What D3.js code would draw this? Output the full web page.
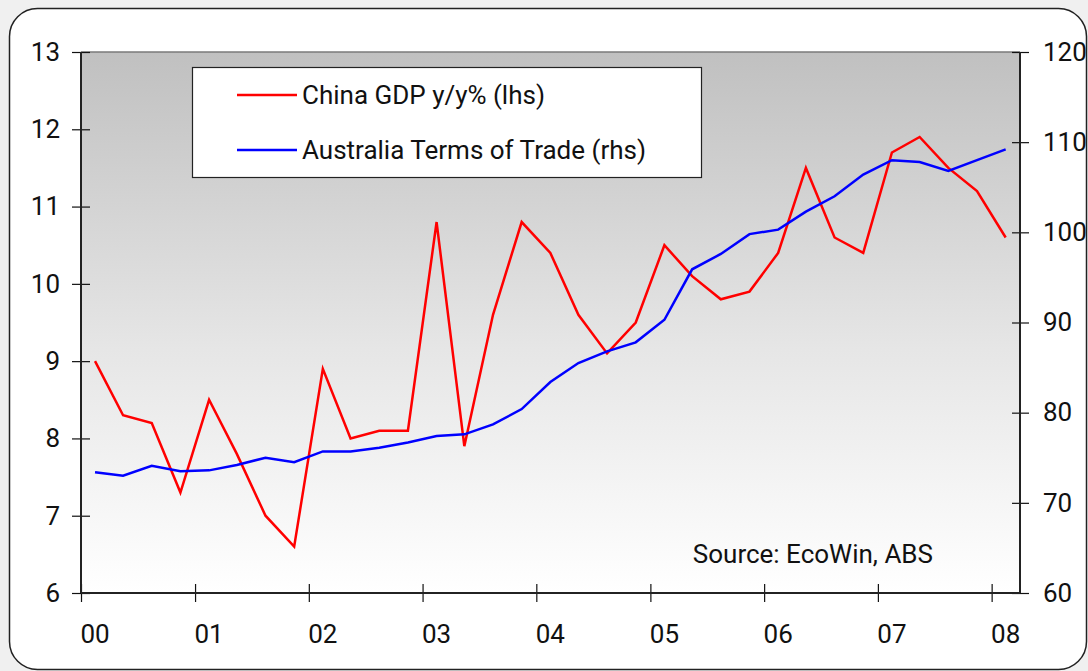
<!DOCTYPE html>
<html>
<head>
<meta charset="utf-8">
<script src="https://cdn.jsdelivr.net/npm/d3@7"></script>
<style>
  body { margin: 0; background: #f0f0f0; }
  svg { display: block; }
  text { font-family: Roboto, "DejaVu Sans", sans-serif; fill: #111; }
</style>
</head>
<body>
<script>
// quarterly data, 2000Q1 .. 2008Q1
var quarters = [
    "2000Q1","2000Q2","2000Q3","2000Q4",
    "2001Q1","2001Q2","2001Q3","2001Q4",
    "2002Q1","2002Q2","2002Q3","2002Q4",
    "2003Q1","2003Q2","2003Q3","2003Q4",
    "2004Q1","2004Q2","2004Q3","2004Q4",
    "2005Q1","2005Q2","2005Q3","2005Q4",
    "2006Q1","2006Q2","2006Q3","2006Q4",
    "2007Q1","2007Q2","2007Q3","2007Q4",
    "2008Q1"];

var chinaGdp = [9.0, 8.3, 8.2, 7.3, 8.5, 7.8, 7.0, 6.6, 8.9, 8.0, 8.1, 8.1,
    10.8, 7.9, 9.6, 10.8, 10.4, 9.6, 9.1, 9.5, 10.5, 10.1, 9.8, 9.9,
    10.4, 11.5, 10.6, 10.4, 11.7, 11.9, 11.5, 11.2, 10.6];

var ausTot = [73.4, 73.0, 74.1, 73.5, 73.6, 74.2, 75.0, 74.5, 75.7, 75.7, 76.1, 76.7,
    77.4, 77.6, 78.7, 80.4, 83.4, 85.5, 86.8, 87.8, 90.3, 95.9, 97.6, 99.8,
    100.3, 102.3, 104.0, 106.4, 108.0, 107.8, 106.8, 108.0, 109.2];

var leftTicks = [6, 7, 8, 9, 10, 11, 12, 13];
var rightTicks = [60, 70, 80, 90, 100, 110, 120];
var years = [2000, 2001, 2002, 2003, 2004, 2005, 2006, 2007, 2008];

var seriesNames = ["China GDP y/y% (lhs)", "Australia Terms of Trade (rhs)"];
var seriesColors = ["#ff0000", "#0000ff"];

var W = 1088, H = 671;
var margin = {top: 52, left: 81, right: 68, bottom: 78};
var width = W - margin.left - margin.right,
    height = H - margin.top - margin.bottom;
var fontSize = "26px";

function qDate(q) {
    var yr = +q.slice(0, 4), qq = +q.slice(5) - 1;
    return new Date(yr, qq * 3 + 1, 15);
}

var data = quarters.map((q, i) => ({date: qDate(q), gdp: chinaGdp[i], tot: ausTot[i]}));

var x = d3.scaleTime()
    .domain([new Date(2000, 0, 1), new Date(2008, 3, 1)])
    .range([0, width]);
var yL = d3.scaleLinear().domain([6, 13]).range([height, 0]);
var yR = d3.scaleLinear().domain([60, 120]).range([height, 0]);

var svg = d3.select("body").append("svg")
    .attr("width", W)
    .attr("height", H);

// outer frame
svg.append("rect")
    .attr("x", 9.5).attr("y", 8.5)
    .attr("width", 1077).attr("height", 661)
    .attr("rx", 28).attr("ry", 28)
    .style("fill", "#fff")
    .style("stroke", "#222")
    .style("stroke-width", 1.5);

var defs = svg.append("defs");
var grad = defs.append("linearGradient")
    .attr("id", "bg").attr("x1", 0).attr("y1", 0).attr("x2", 0).attr("y2", 1);
grad.append("stop").attr("offset", "0%").attr("stop-color", "#c0c0c0");
grad.append("stop").attr("offset", "55%").attr("stop-color", "#e6e6e6");
grad.append("stop").attr("offset", "100%").attr("stop-color", "#ffffff");

var g = svg.append("g")
    .attr("transform", "translate(" + margin.left + "," + margin.top + ")");

g.append("rect")
    .attr("width", width)
    .attr("height", height)
    .style("fill", "url(#bg)");

// top border
g.append("line")
    .attr("x1", 0).attr("x2", width)
    .attr("y1", 0).attr("y2", 0)
    .style("stroke", "#7a7a7a")
    .style("stroke-width", 1.5);

// axes
var yAxisL = d3.axisLeft(yL).tickValues(leftTicks).tickSize(9).tickPadding(12).tickFormat(d3.format("d"));
var yAxisR = d3.axisRight(yR).tickValues(rightTicks).tickSize(9).tickPadding(14).tickFormat(d3.format("d"));
var xAxis = d3.axisBottom(x).tickValues(years.map(y => new Date(y, 0, 1))).tickSize(9).tickFormat("");

var gl = g.append("g").attr("class", "axis").call(yAxisL);
gl.selectAll(".tick line").attr("x1", 9);
var gr = g.append("g").attr("class", "axis")
    .attr("transform", "translate(" + width + ",0)").call(yAxisR);
gr.selectAll(".tick line").attr("x1", -8);
var gx = g.append("g").attr("class", "axis")
    .attr("transform", "translate(0," + height + ")").call(xAxis);
gx.selectAll(".tick line").attr("y1", -9);

svg.selectAll(".axis .domain").remove();
svg.selectAll(".axis line").style("stroke", "#111").style("stroke-width", 1.2);
svg.selectAll(".axis text")
    .style("font-size", fontSize)
    .style("font-family", "Roboto, 'DejaVu Sans', sans-serif")
    .style("fill", "#111");

// axis lines
g.append("line").attr("x1", 0).attr("x2", 0).attr("y1", 0).attr("y2", height)
    .style("stroke", "#222").style("stroke-width", 2);
g.append("line").attr("x1", width).attr("x2", width).attr("y1", 0).attr("y2", height)
    .style("stroke", "#222").style("stroke-width", 2);
g.append("line").attr("x1", 0).attr("x2", width).attr("y1", height).attr("y2", height)
    .style("stroke", "#222").style("stroke-width", 2);

// year labels, centred on the first quarter point
g.selectAll(".ylab")
    .data(years)
    .enter()
    .append("text")
    .attr("class", "ylab")
    .attr("x", d => x(new Date(d, 1, 15)))
    .attr("y", height + 50)
    .attr("text-anchor", "middle")
    .style("font-size", fontSize)
    .text(d => d3.timeFormat("%y")(new Date(d, 0, 1)));

// lines
var lineGdp = d3.line().x(d => x(d.date)).y(d => yL(d.gdp));
var lineTot = d3.line().x(d => x(d.date)).y(d => yR(d.tot));

g.append("path").datum(data)
    .attr("d", lineGdp)
    .style("fill", "none")
    .style("stroke", seriesColors[0])
    .style("stroke-width", 2.5)
    .style("stroke-linejoin", "miter");

g.append("path").datum(data)
    .attr("d", lineTot)
    .style("fill", "none")
    .style("stroke", seriesColors[1])
    .style("stroke-width", 2.5);

// legend
var legend = svg.append("g").attr("transform", "translate(192,67)");
legend.append("rect")
    .attr("x", 0.5).attr("y", 0.5)
    .attr("width", 509).attr("height", 110)
    .style("fill", "#fff")
    .style("stroke", "#222")
    .style("stroke-width", 1.2);

var items = legend.selectAll(".item")
    .data(seriesNames)
    .enter()
    .append("g")
    .attr("transform", (d, i) => "translate(0," + (28 + i * 55) + ")");
items.append("line")
    .attr("x1", 45).attr("x2", 105)
    .style("stroke", (d, i) => seriesColors[i])
    .style("stroke-width", 2.5);
items.append("text")
    .attr("x", 110)
    .attr("y", 9)
    .style("font-size", fontSize)
    .text(d => d);

// source note
svg.append("text")
    .attr("x", 933)
    .attr("y", 563)
    .attr("text-anchor", "end")
    .style("font-size", fontSize)
    .text("Source: EcoWin, ABS");
</script>
</body>
</html>
